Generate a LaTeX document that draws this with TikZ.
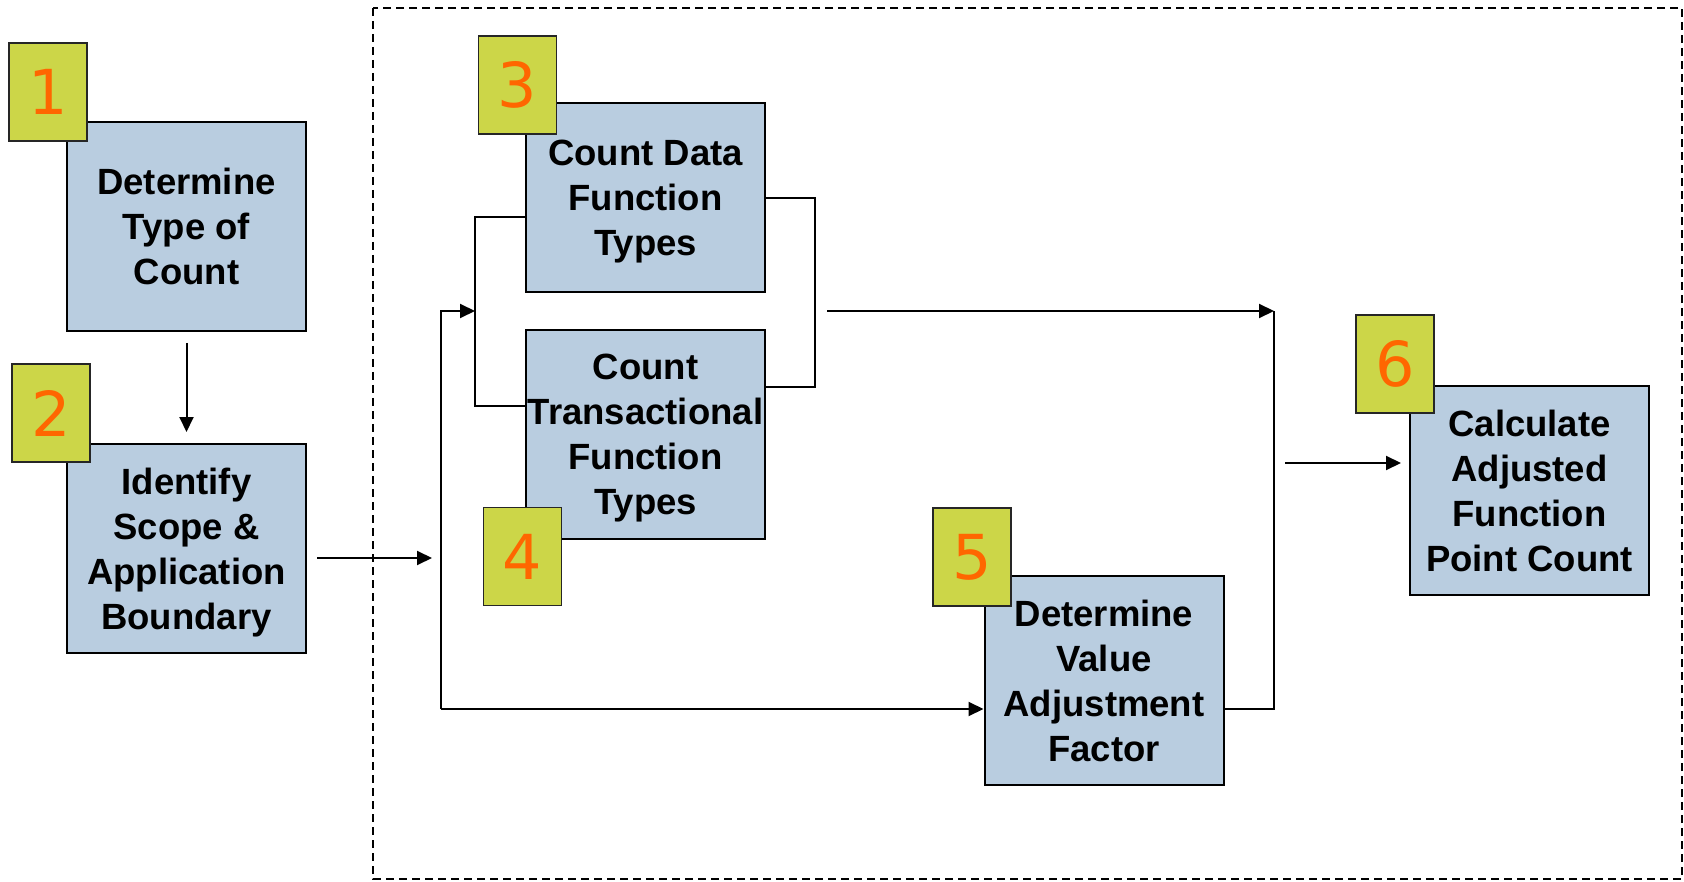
\documentclass[tikz,border=0pt]{standalone}
\usepackage{fontspec}
\setmainfont{Liberation Sans}
\newfontfamily\digitfont{DejaVu Sans}
\usetikzlibrary{arrows.meta}
\definecolor{boxblue}{RGB}{185,205,224}
\definecolor{tagfill}{RGB}{204,214,72}
\definecolor{tagnum}{RGB}{255,102,0}
\begin{document}
\begin{tikzpicture}[x=1pt,y=-1pt,
 stepbox/.style={draw=black, line width=2pt, fill=boxblue, minimum width=239pt, minimum height=209pt, inner sep=0pt, align=center, text depth=0pt, font=\fontsize{36.5}{45}\selectfont\bfseries},
 tag/.style={draw=black!85, line width=1.6pt, fill=tagfill, minimum width=78pt, minimum height=98pt, inner sep=0pt, font=\fontsize{62}{62}\selectfont\digitfont, text=tagnum},
 conn/.style={line width=2pt},
 arr/.style={conn, -{Triangle[length=15pt,width=14pt]}},
 frame/.style={line width=2pt, dash pattern=on 8pt off 5pt}
]
\useasboundingbox (0,0) rectangle (1684,882);
\draw[frame] (373,8) rectangle (1682,879);

\node[stepbox] (b1) at (186.5,226.5) {Determine\\Type of\\Count};
\node[stepbox] (b2) at (186.5,548.5) {Identify\\Scope \&\\Application\\Boundary};
\node[stepbox, minimum height=189pt] (b3) at (645.5,197.5) {Count Data\\Function\\Types};
\node[stepbox] (b4) at (645.5,434.5) {Count\\Transactional\\Function\\Types};
\node[stepbox] (b5) at (1104,680.5) {Determine\\Value\\Adjustment\\Factor};
\node[stepbox] (b6) at (1529.5,490.5) {Calculate\\Adjusted\\Function\\Point Count};

\node[tag] (t1) at (48,92) {1};
\node[tag] (t2) at (51,413) {2};
\node[tag] (t3) at (517.5,85) {3};
\node[tag] (t4) at (522.5,556.5) {4};
\node[tag] (t5) at (972,557) {5};
\node[tag] (t6) at (1395,364) {6};

\coordinate (lTop) at (475,217);
\coordinate (lBot) at (475,406);
\coordinate (tipL) at (475,311);
\coordinate (spine) at (441,311);
\coordinate (spineB) at (441,709);
\coordinate (in2) at (432,558);
\coordinate (rTop) at (815,198);
\coordinate (rBot) at (815,387);
\coordinate (mS) at (827,311);
\coordinate (mE) at (1274,311);
\coordinate (rB) at (1274,709);
\coordinate (in6) at (1285,463);

\draw[arr, shorten <=11pt, shorten >=11pt] (b1) -- (b2);
\draw[arr, shorten <=10pt] (b2.east |- in2) -- (in2);
\draw[conn] (b3.west |- lTop) -- (lTop) -- (lBot) -- (b4.west |- lBot);
\draw[arr] (spineB) -- (spine) -- (tipL);
\draw[arr] (spineB) -- (b5.west |- spineB);
\draw[conn] (b3.east |- rTop) -- (rTop) -- (rBot) -- (b4.east |- rBot);
\draw[arr] (mS) -- (mE);
\draw[conn] (b5.east |- rB) -- (rB) -- (mE);
\draw[arr, shorten >=8pt] (in6) -- (b6.west |- in6);
\end{tikzpicture}
\end{document}
